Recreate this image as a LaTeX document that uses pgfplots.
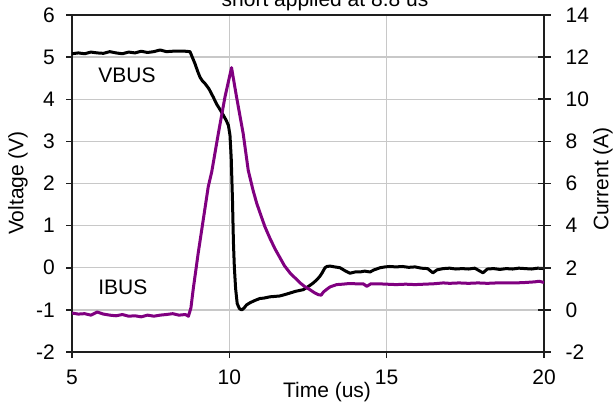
\documentclass[border=0pt]{standalone}
\usepackage{fontspec}
\setmainfont{Liberation Sans}
\usepackage{pgfplots}
\pgfplotsset{compat=1.18}
\definecolor{ipurple}{RGB}{128,0,128}
\definecolor{gridc}{RGB}{200,200,200}
\definecolor{axc}{RGB}{30,30,30}
\begin{document}
\fontsize{21bp}{25bp}\selectfont
\begin{tikzpicture}[x=1bp,y=1bp]
\pgfplotsset{every axis/.append style={scale only axis, width=472bp, height=337bp,
  at={(72bp,53bp)}, anchor=south west, xmin=5, xmax=20,
  /pgf/number format/assume math mode=true,
  tick label style={font=\fontsize{21bp}{25bp}\selectfont},
  axis line style={axc, line width=1.8bp},
  tick style={axc, line width=1.5bp}}}
\begin{axis}[ymin=-2, ymax=6, ytick={-2,...,6}, xtick={5,10,15,20},
  ymajorgrids, xmajorgrids, grid style={gridc, line width=1.3bp},
  xtick pos=bottom, ytick pos=left, tick align=outside, major tick length=6bp,
  yticklabel style={inner sep=0pt, xshift=-11bp},
  xticklabel style={inner sep=0pt, yshift=-12bp}]
\addplot[black, line width=3bp, line join=round, mark=none] coordinates {
(5.0,5.08) (5.2,5.10) (5.4,5.08) (5.6,5.12) (5.8,5.10) (6.0,5.09) (6.2,5.13) (6.4,5.10)
(6.6,5.08) (6.8,5.12) (7.0,5.10) (7.2,5.14) (7.4,5.11) (7.6,5.13) (7.8,5.17) (8.0,5.13)
(8.2,5.14) (8.4,5.14) (8.6,5.14) (8.75,5.13) (8.85,4.95) (8.91,4.84) (9.0,4.65) (9.07,4.52)
(9.15,4.43) (9.23,4.37) (9.35,4.25) (9.49,4.05) (9.6,3.88) (9.7,3.76) (9.81,3.62) (9.9,3.50)
(9.97,3.38) (10.02,3.15) (10.06,2.6) (10.1,1.6) (10.13,0.6) (10.16,0.0) (10.2,-0.5) (10.25,-0.85)
(10.32,-0.97) (10.39,-1.0) (10.45,-0.97) (10.55,-0.88) (10.66,-0.83) (10.8,-0.78) (10.97,-0.73)
(11.1,-0.72) (11.29,-0.69) (11.45,-0.68) (11.6,-0.67) (11.75,-0.64) (11.93,-0.60) (12.1,-0.56)
(12.35,-0.52) (12.5,-0.45) (12.67,-0.36) (12.8,-0.27) (12.88,-0.20) (12.95,-0.12) (13.04,0.0)
(13.1,0.03) (13.2,0.04) (13.35,0.02) (13.52,0.0) (13.65,-0.06) (13.83,-0.13) (14.0,-0.10)
(14.15,-0.10) (14.3,-0.08) (14.47,-0.10) (14.6,-0.05) (14.79,0.0) (14.95,0.02) (15.1,0.03)
(15.3,0.02) (15.5,0.03) (15.7,0.01) (15.9,0.02) (16.1,-0.01) (16.3,-0.02) (16.47,-0.12)
(16.6,-0.05) (16.8,-0.02) (17.0,-0.01) (17.2,-0.03) (17.4,-0.02) (17.6,-0.03) (17.8,-0.01)
(18.06,-0.12) (18.2,-0.03) (18.4,-0.02) (18.6,-0.04) (18.8,-0.02) (19.0,-0.03) (19.2,-0.01)
(19.4,-0.02) (19.6,-0.03) (19.8,-0.01) (20.0,-0.02)};
\node at (axis cs:6.75,4.56) {VBUS};
\node[anchor=west, inner sep=0pt] at (axis cs:5.83,-0.47) {IBUS};
\end{axis}
\begin{axis}[ymin=-2, ymax=14, ytick={-2,0,...,14},
  axis y line*=right, axis x line=none, tick align=center, major tick length=13bp,
  yticklabel style={inner sep=0pt, xshift=15bp}]
\addplot[ipurple, line width=3bp, line join=round, mark=none] coordinates {
(5.0,-0.15) (5.2,-0.20) (5.4,-0.18) (5.6,-0.25) (5.8,-0.10) (6.0,-0.20) (6.2,-0.25) (6.4,-0.28)
(6.6,-0.22) (6.8,-0.30) (7.0,-0.28) (7.2,-0.33) (7.4,-0.25) (7.6,-0.30) (7.8,-0.25) (8.0,-0.22)
(8.2,-0.18) (8.4,-0.25) (8.6,-0.22) (8.7,-0.30) (8.78,0.10) (8.85,0.96) (9.01,2.69) (9.17,4.27)
(9.33,5.85) (9.44,6.55) (9.65,8.37) (9.86,10.1) (10.07,11.5) (10.23,10.1) (10.44,8.37) (10.6,6.63)
(10.75,5.7) (10.87,5.06) (11.0,4.5) (11.13,3.95) (11.29,3.40) (11.45,2.9) (11.6,2.5) (11.75,2.1)
(11.93,1.75) (12.1,1.5) (12.25,1.28) (12.4,1.1) (12.56,0.96) (12.7,0.82) (12.83,0.72) (12.92,0.70)
(12.99,0.85) (13.1,0.98) (13.2,1.09) (13.41,1.20) (13.6,1.22) (13.8,1.25) (14.0,1.24) (14.25,1.24)
(14.37,1.12) (14.5,1.24) (14.7,1.24) (15.0,1.22) (15.3,1.20) (15.6,1.22) (15.9,1.20) (16.2,1.22)
(16.5,1.24) (16.8,1.28) (17.0,1.26) (17.3,1.28) (17.6,1.26) (17.9,1.28) (18.2,1.26) (18.5,1.28)
(18.8,1.28) (19.1,1.28) (19.4,1.30) (19.7,1.33) (19.85,1.36) (20.0,1.30)};
\end{axis}
\node[rotate=90] at (18,222) {Voltage (V)};
\node[rotate=90] at (603,226) {Current (A)};
\node at (327,13) {Time (us)};
\node[anchor=base] at (325,398) {short applied at 8.8 us};
\pgfresetboundingbox
\useasboundingbox (0,0) rectangle (614,405);
\end{tikzpicture}
\end{document}
